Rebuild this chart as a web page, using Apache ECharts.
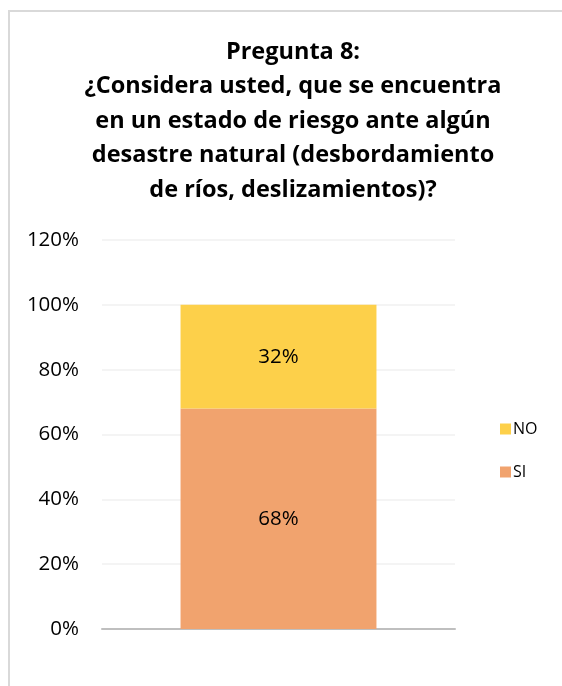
<!DOCTYPE html>
<html>
<head>
<meta charset="utf-8">
<script src="https://cdn.jsdelivr.net/npm/echarts@6/dist/echarts.min.js"></script>
<style>
  html, body { margin: 0; padding: 0; background: #fff; overflow: hidden; }
  #chart { position: absolute; left: 0; top: 0; width: 562px; height: 686px; }
  .frame { position: absolute; left: 8px; top: 10px; width: 554px; height: 676px;
           border-left: 2px solid #d9d9d9; border-top: 2px solid #d9d9d9;
           box-sizing: border-box; pointer-events: none; }
</style>
</head>
<body>
<div id="chart"></div>
<div class="frame"></div>
<script>
// chart data
const titleText = 'Pregunta 8:\n¿Considera usted, que se encuentra\nen un estado de riesgo ante algún\ndesastre natural (desbordamiento\nde ríos, deslizamientos)?'
const categories = ['']
const siValues = [0.68]
const noValues = [0.32]
const legendNames = ['NO', 'SI']

const chart = echarts.init(document.getElementById('chart'))

const pct = v => Math.round(v * 100) + '%'

chart.setOption({
  animation: false,
  color: ['#F1A36E', '#FDD04A'],
  title: {
    text: titleText,
    left: 288,
    textAlign: 'center',
    top: 30,
    textStyle: {
      fontFamily: 'Open Sans',
      fontWeight: 'bold',
      fontSize: 23.5,
      lineHeight: 34.5,
      color: '#000'
    }
  },
  legend: {
    data: legendNames,
    orient: 'vertical',
    left: 495,
    top: 416,
    itemWidth: 11,
    itemHeight: 11,
    itemGap: 27,
    icon: 'rect',
    textStyle: {
      fontFamily: 'Open Sans',
      fontSize: 16,
      color: '#000',
      padding: [0, 0, 0, -3]
    }
  },
  grid: {
    left: 102,
    right: 107,
    top: 240,
    bottom: 57,
    containLabel: false
  },
  xAxis: {
    type: 'category',
    data: categories,
    axisTick: { show: false },
    axisLabel: { show: false },
    axisLine: { lineStyle: { color: '#BFBFBF', width: 2 } }
  },
  yAxis: {
    type: 'value',
    min: 0,
    max: 1.2,
    interval: 0.2,
    axisLine: { show: false },
    axisTick: { show: false },
    splitLine: { lineStyle: { color: '#F0F0F0', width: 1.5 } },
    axisLabel: {
      formatter: pct,
      margin: 23,
      fontFamily: 'Open Sans',
      fontSize: 20.5,
      color: '#000'
    }
  },
  series: [
    {
      name: 'SI',
      type: 'bar',
      stack: 'total',
      data: siValues,
      barWidth: '55.5%',
      label: {
        show: true,
        position: 'inside',
        formatter: p => pct(p.value),
        fontFamily: 'Open Sans',
        fontSize: 20.5,
        color: '#000'
      }
    },
    {
      name: 'NO',
      type: 'bar',
      stack: 'total',
      data: noValues,
      label: {
        show: true,
        position: 'inside',
        formatter: p => pct(p.value),
        fontFamily: 'Open Sans',
        fontSize: 20.5,
        color: '#000'
      }
    }
  ]
})
</script>
</body>
</html>
